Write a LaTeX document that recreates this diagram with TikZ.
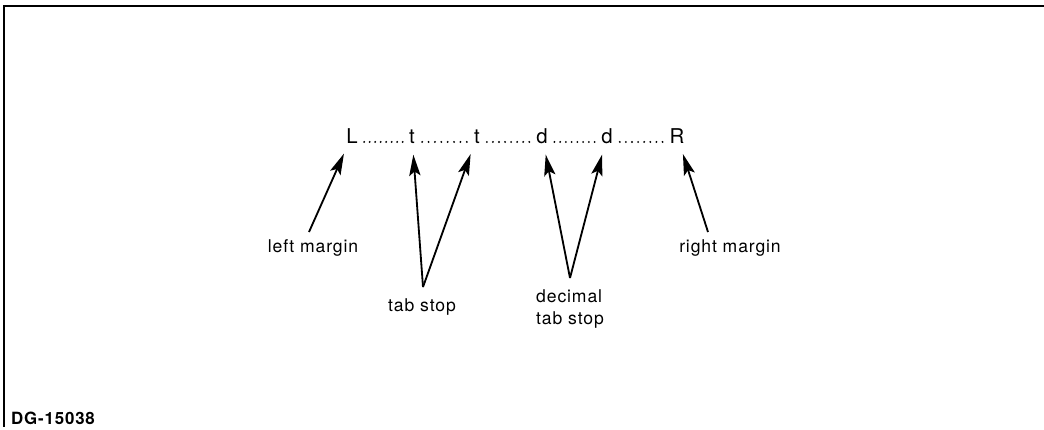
\documentclass[tikz,border=0pt]{standalone}
\usepackage{fontspec}
\setmainfont[LetterSpace=5]{TeX Gyre Heros}
\usetikzlibrary{arrows.meta,calc}

\begin{document}
\begin{tikzpicture}[x=0.025cm,y=-0.025cm,>={Stealth[length=15pt,width=8pt,inset=3pt]}]
  \tikzset{
    pointer/.style={->,line width=1.3pt,shorten >=7.5pt},
    letter/.style={font=\fontsize{14.5}{16}\selectfont,inner sep=0.5pt,anchor=base},
    caption/.style={font=\fontsize{12.5}{15.5}\selectfont,inner sep=1pt},
    frame/.style={line width=1.1pt}
  }
  \useasboundingbox (0,0) rectangle (1044,429);
  \draw[frame] (1044,6) -- (4,6) -- (4,427);

  % the ruler line
  \node[letter] (L) at (352,143) {L};
  \node[letter] (t1) at (412,143) {t};
  \node[letter] (t2) at (477,143) {t};
  \node[letter] (d1) at (542,143) {d};
  \node[letter] (d2) at (607,143) {d};
  \node[letter] (R) at (677,143) {R};
  \foreach \a/\b in {L/t1,t1/t2,t2/d1,d1/d2,d2/R}
    \foreach \i in {1,...,8}
      \fill ($([yshift=0.75pt]\a.base east)!\i/9!([yshift=0.75pt]\b.base west)$) circle (0.75pt);

  % labels
  \node[caption] (lm) at (313,248) {left margin};
  \node[caption] (ts) at (422,307) {tab stop};
  \node[caption,align=left] (dts) at (570,309) {decimal\\tab stop};
  \node[caption] (rm) at (730,248) {right margin};
  \coordinate (lmend) at (309,232);
  \coordinate (tsv) at (423,287);
  \coordinate (dsv) at (570,278);
  \coordinate (rmend) at (708,232);

  \draw[pointer] (lmend) -- (L);
  \draw[pointer] (tsv) -- (t1);
  \draw[pointer] (tsv) -- (t2);
  \draw[pointer] (dsv) -- (d1);
  \draw[pointer] (dsv) -- (d2);
  \draw[pointer] (rmend) -- (R);

  \node[font=\fontsize{12}{14}\selectfont\bfseries,inner sep=0pt] (id) at (53,418) {DG-15038};
\end{tikzpicture}
\end{document}
